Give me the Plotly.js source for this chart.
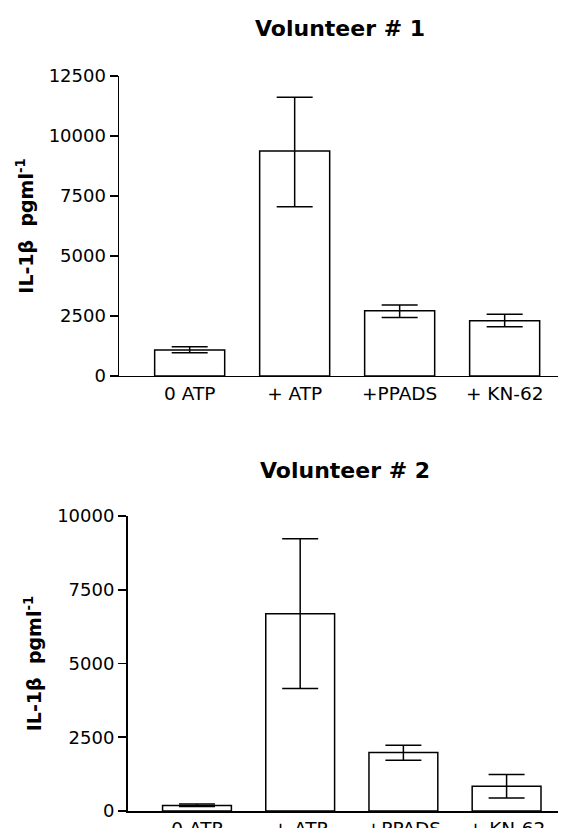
<!DOCTYPE html>
<html>
<head>
<meta charset="utf-8">
<script src="https://cdn.plot.ly/plotly-3.0.1.min.js"></script>
<style>html,body{margin:0;padding:0;background:#fff}#chart{width:563px;height:828px}</style>
</head>
<body>
<div id="chart"></div>
<script>
// Data
const categories = ["0 ATP", "+ ATP", "+PPADS", "+ KN-62"];
const v1Means = [1080, 9375, 2720, 2305];
const v1ErrPlus = [140, 2240, 240, 265];
const v1ErrMinus = [110, 2320, 280, 250];
const v2Means = [190, 6690, 1980, 840];
const v2ErrPlus = [45, 2540, 245, 395];
const v2ErrMinus = [40, 2540, 260, 400];
const v1Ticks = [0, 2500, 5000, 7500, 10000, 12500];
const v2Ticks = [0, 2500, 5000, 7500, 10000];
const panelTitles = ["Volunteer # 1", "Volunteer # 2"];
const yTitle = "IL-1β  pgml<sup>-1</sup>";

const FONT = "DejaVu Sans, Arial, sans-serif";

function barTrace(means, ep, em, xa, ya) {
  return {
    type: "bar",
    x: categories,
    y: means,
    xaxis: xa,
    yaxis: ya,
    width: 0.667,
    marker: {color: "#ffffff", line: {color: "#000000", width: 1.5}},
    error_y: {type: "data", symmetric: false, array: ep, arrayminus: em,
              color: "#000000", thickness: 1.5, width: 18},
    hoverinfo: "none",
    showlegend: false
  };
}

const data = [
  barTrace(v1Means, v1ErrPlus, v1ErrMinus, "x", "y"),
  barTrace(v2Means, v2ErrPlus, v2ErrMinus, "x2", "y2")
];

function xAxis(domain, range, anchor) {
  return {
    domain: domain, range: range, anchor: anchor,
    type: "category",
    showline: true, linecolor: "#000", linewidth: 1.5,
    ticks: "", showgrid: false, zeroline: false,
    tickfont: {family: FONT, size: 18.5, color: "#000"},
    fixedrange: true
  };
}
function yAxis(domain, range, ticks, anchor, standoff) {
  return {
    domain: domain, range: range, anchor: anchor,
    showline: true, linecolor: "#000", linewidth: 1.5,
    ticks: "outside", ticklen: 8, tickwidth: 1.5, tickcolor: "#000",
    tickvals: ticks, ticktext: ticks.map(String),
    showgrid: false, zeroline: false,
    tickfont: {family: FONT, size: 18, color: "#000"},
    title: {text: yTitle, standoff: standoff,
            font: {family: FONT, size: 19, color: "#000", weight: "bold"}},
    fixedrange: true
  };
}

const layout = {
  width: 563, height: 828,
  margin: {l: 0, r: 0, t: 0, b: 0},
  paper_bgcolor: "#fff", plot_bgcolor: "#fff",
  bargap: 0.3,
  xaxis: xAxis([0.2114, 0.9911], [-0.673, 3.508], "y"),
  yaxis: yAxis([0.5459, 0.9082], [0, 12500], v1Ticks, "x", 10),
  xaxis2: xAxis([0.2265, 0.9911], [-0.673, 3.498], "y2"),
  yaxis2: yAxis([0.02053, 0.3768], [0, 10000], v2Ticks, "x2", 10),
  annotations: [
    {text: "<b>" + panelTitles[0] + "</b>", xref: "paper", yref: "paper",
     x: 340 / 563, y: 1 - 28 / 828, xanchor: "center", yanchor: "middle",
     showarrow: false, font: {family: FONT, size: 22, color: "#000"}},
    {text: "<b>" + panelTitles[1] + "</b>", xref: "paper", yref: "paper",
     x: 345 / 563, y: 1 - 470 / 828, xanchor: "center", yanchor: "middle",
     showarrow: false, font: {family: FONT, size: 22, color: "#000"}}
  ]
};

Plotly.newPlot("chart", data, layout, {staticPlot: true, displayModeBar: false});
</script>
</body>
</html>
